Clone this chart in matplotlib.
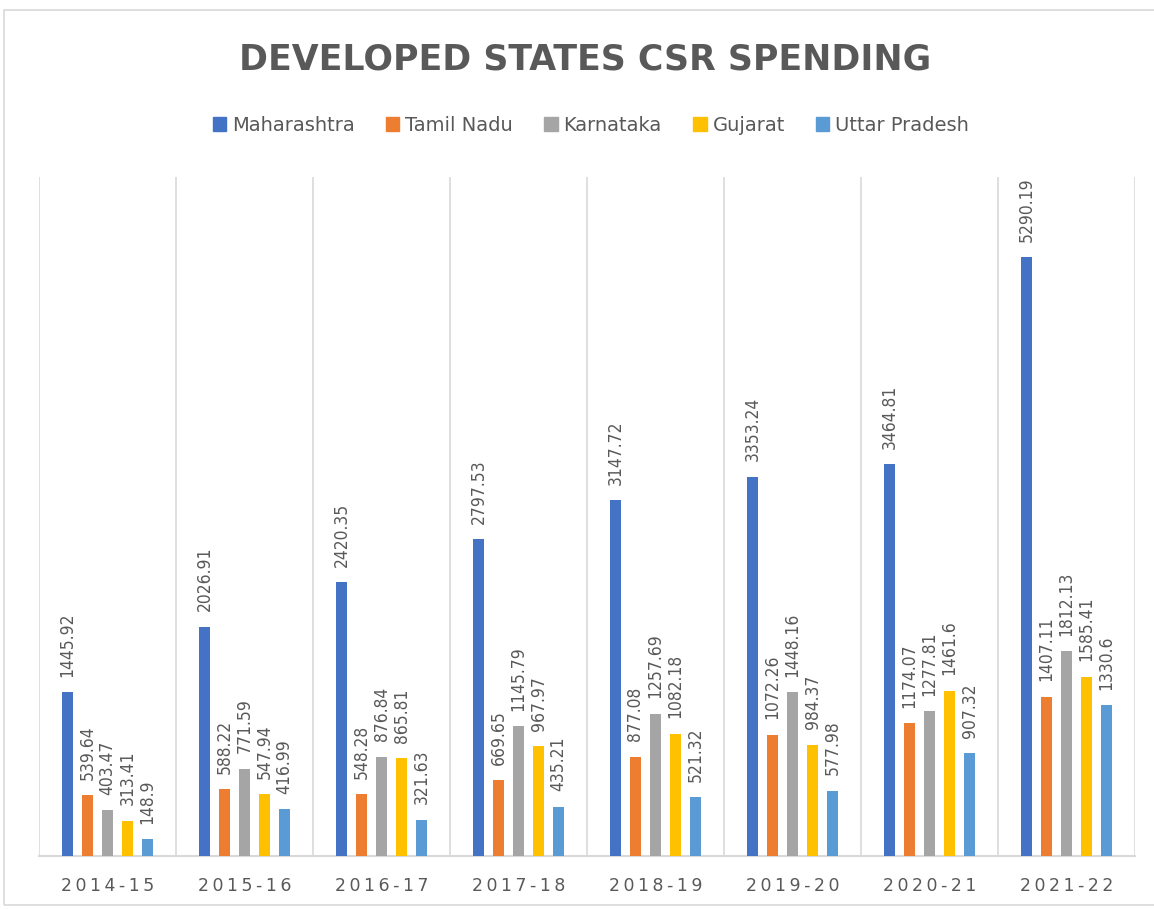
import matplotlib
matplotlib.use("Agg")
import matplotlib.pyplot as plt
from matplotlib import font_manager as fm
from matplotlib.patches import Rectangle
import numpy as np

years = ["2014-15", "2015-16", "2016-17", "2017-18", "2018-19", "2019-20", "2020-21", "2021-22"]
series_names = ["Maharashtra", "Tamil Nadu", "Karnataka", "Gujarat", "Uttar Pradesh"]
maharashtra = [1445.92, 2026.91, 2420.35, 2797.53, 3147.72, 3353.24, 3464.81, 5290.19]
tamil_nadu = [539.64, 588.22, 548.28, 669.65, 877.08, 1072.26, 1174.07, 1407.11]
karnataka = [403.47, 771.59, 876.84, 1145.79, 1257.69, 1448.16, 1277.81, 1812.13]
gujarat = [313.41, 547.94, 865.81, 967.97, 1082.18, 984.37, 1461.6, 1585.41]
uttar_pradesh = [148.9, 416.99, 321.63, 435.21, 521.32, 577.98, 907.32, 1330.6]
colors = ["#4472C4", "#ED7D31", "#A5A5A5", "#FFC000", "#5B9BD5"]
title = "DEVELOPED STATES CSR SPENDING"

all_series = [maharashtra, tamil_nadu, karnataka, gujarat, uttar_pradesh]

available = {f.name for f in fm.fontManager.ttflist}
if "Liberation Sans Narrow" in available:
    narrow, stretch = "Liberation Sans Narrow", "normal"
else:
    narrow, stretch = "DejaVu Sans", "condensed"
text_grey = "#595959"

fig = plt.figure(figsize=(11.54, 9.09), dpi=100)
# chart border
fig.patches.append(Rectangle((4/1154, 4/909), 1.2, 895/909, transform=fig.transFigure,
                             fill=False, edgecolor="#D9D9D9", linewidth=1.2))

ax = fig.add_axes([39/1154, 53/909, 1096/1154, 679/909])
n = len(years)
x = np.arange(n)
width = 0.08
step = 0.146
for i, (name, vals, c) in enumerate(zip(series_names, all_series, colors)):
    offs = (i - 2) * step
    ax.bar(x + offs, vals, width, color=c, label=name, zorder=3)
    for xi, v in zip(x + offs, vals):
        ax.annotate(f"{v:g}", (xi, v), xytext=(0, 11), textcoords="offset points",
                    rotation=90, ha="center", va="bottom", fontsize=12.5,
                    fontstretch=stretch,
                    color=text_grey, family=[narrow, "DejaVu Sans"], zorder=4)

ax.set_xlim(-0.5, n - 0.5)
ax.set_ylim(0, 6000)
ax.set_yticks([])
for s in ["left", "right", "top"]:
    ax.spines[s].set_visible(False)
ax.spines["bottom"].set_color("#D9D9D9")
ax.spines["bottom"].set_linewidth(1.5)
for b in np.arange(n + 1) - 0.5:
    ax.axvline(b, color="#D9D9D9", linewidth=1.2, zorder=1)
ax.set_xticks(x)
ax.set_xticklabels(["\u2009".join(y) for y in years], fontsize=12.5, color=text_grey)
ax.tick_params(axis="x", length=0, pad=15)

fig.text(0.507, 0.935, title, ha="center", va="center", fontsize=25,
         fontweight="bold", color=text_grey)

handles = [Rectangle((0, 0), 1, 1, color=c) for c in colors]
fig.legend(handles, series_names, loc="center", bbox_to_anchor=(0.512, 0.862), ncol=5,
           frameon=False, fontsize=14, handlelength=0.7, handleheight=0.7,
           handletextpad=0.3, columnspacing=1.6,
           labelcolor=text_grey)

fig.savefig("out.png", dpi=100, facecolor="white")
